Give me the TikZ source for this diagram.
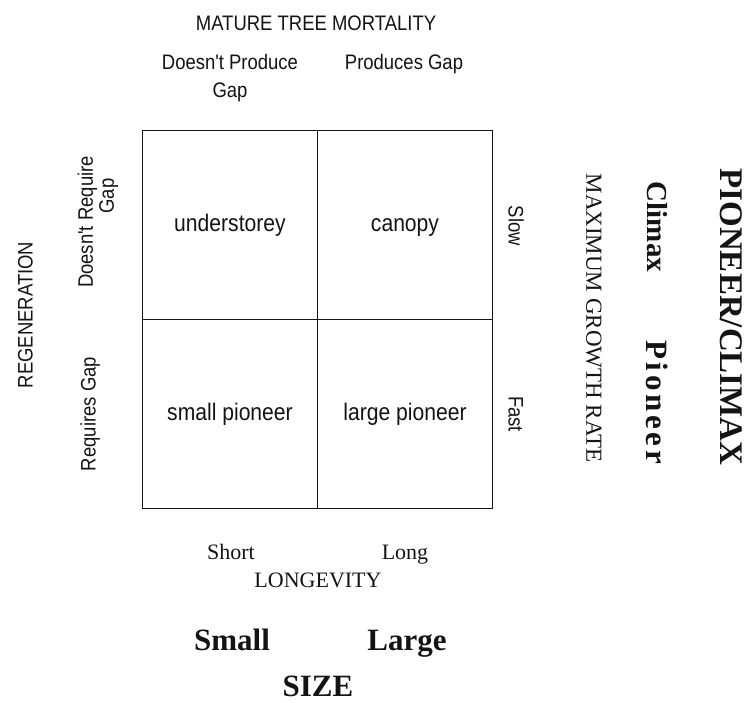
\documentclass[tikz,border=0pt]{standalone}
\usepackage{fontspec}
\setmainfont{Liberation Serif}
\newfontfamily\narrowsans[FakeStretch=0.88]{Liberation Sans}
\definecolor{ink}{RGB}{20,20,20}
\tikzset{
  cell/.style={draw=ink,line width=1.2pt,minimum width=175pt,minimum height=189pt,
    inner sep=0pt,font=\narrowsans\fontsize{24}{28}\selectfont,text=ink,
    text height=17.5pt,text depth=5pt},
  twoline/.style={text height={},text depth={}},
  sanslabel/.style={font=\narrowsans\fontsize{21}{#1}\selectfont,align=center,
    text=ink,inner sep=0pt,text height=15pt,text depth=0pt},
  sanslabel/.default=24,
  seriflabel/.style={font=\fontsize{#1}{#1}\selectfont,text=ink,inner sep=0pt,
    text height=0.66*#1pt,text depth=0pt},
  seriflabel/.default=22,
  boldlabel/.style={font=\bfseries\fontsize{#1}{#1}\selectfont,text=ink,inner sep=0pt,
    text height=0.66*#1pt,text depth=0pt},
  boldlabel/.default=31,
}

\begin{document}
\begin{tikzpicture}[x=1pt,y=-1pt]
  \useasboundingbox[fill=white] (0,0) rectangle (749,702);
  % the four cells
  \foreach \x/\y/\n/\t in {230/225/under/understorey,405/225/canopy/canopy,
    230/414/smallp/small pioneer,405/414/largep/large pioneer}
    \node[cell] (\n) at (\x,\y) {\t};
  % top: mortality
  \node[sanslabel] (mort) at (316,23) {MATURE TREE MORTALITY};
  \node[sanslabel=28,twoline] (nogap) at (230,78) {Doesn't Produce\\Gap};
  \node[sanslabel] (gap) at (404,62) {Produces Gap};
  % left: regeneration
  \node[sanslabel,rotate=90] (regen) at (25,315) {REGENERATION};
  \node[sanslabel=21,twoline,rotate=90] (noreq) at (98,222)
    {Doesn't Require\\\hspace*{52pt}Gap};
  \node[sanslabel,rotate=90] (req) at (88,414) {Requires Gap};
  % right: growth rate, pioneer/climax
  \node[sanslabel,rotate=-90] (slow) at (516,226) {Slow};
  \node[sanslabel,rotate=-90] (fast) at (516,414) {Fast};
  \node[seriflabel=23,rotate=-90] (growth) at (594,318) {MAXIMUM GROWTH RATE};
  \node[boldlabel=29,rotate=-90] (climax) at (657,227) {Climax};
  \node[boldlabel=31,rotate=-90] (pioneer) at (657,402)
    {\addfontfeature{LetterSpace=12}Pioneer};
  \node[boldlabel=33,rotate=-90] (pc) at (731,317) {PIONEER/CLIMAX};
  % bottom: longevity, size
  \node[seriflabel] (short) at (231,552) {Short};
  \node[seriflabel] (long) at (405,552) {Long};
  \node[seriflabel] (longev) at (318,580) {LONGEVITY};
  \node[boldlabel] (small) at (232,640) {Small};
  \node[boldlabel] (large) at (407,640) {Large};
  \node[boldlabel] (size) at (318,686) {SIZE};
\end{tikzpicture}
\end{document}
